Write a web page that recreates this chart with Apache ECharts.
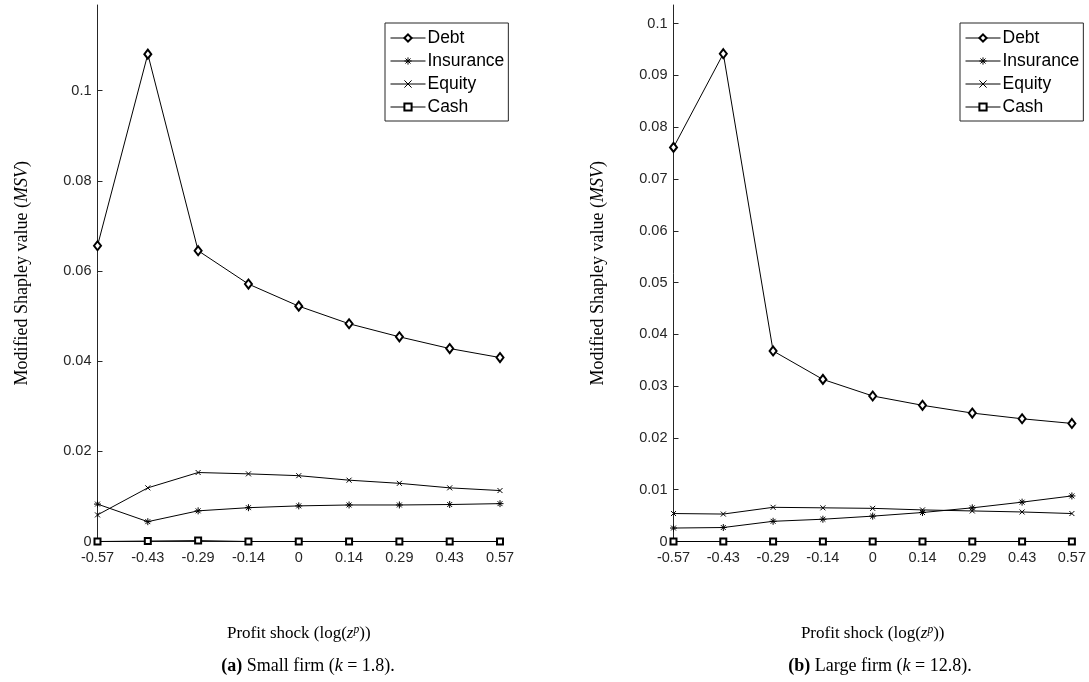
<!DOCTYPE html>
<html>
<head>
<meta charset="utf-8">
<style>
  html, body { margin: 0; padding: 0; background: #fff; }
  #chart { width: 1089px; height: 682px; }
</style>
<script src="https://cdn.jsdelivr.net/npm/echarts@6/dist/echarts.min.js"></script>
</head>
<body>
<div id="chart"></div>
<script>
// Profit shock grid (log z^p), shared by both panels
const shockLabels = ['-0.57', '-0.43', '-0.29', '-0.14', '0', '0.14', '0.29', '0.43', '0.57'];
const seriesNames = ['Debt', 'Insurance', 'Equity', 'Cash'];

// Panel (a): small firm, k = 1.8
const smallDebt      = [0.0656, 0.1081, 0.0645, 0.0571, 0.0522, 0.0483, 0.0454, 0.0428, 0.0408];
const smallInsurance = [0.0083, 0.0044, 0.0068, 0.0075, 0.0079, 0.0081, 0.0081, 0.0082, 0.0084];
const smallEquity    = [0.0059, 0.0119, 0.0153, 0.0150, 0.0146, 0.0136, 0.0129, 0.0119, 0.0113];
const smallCash      = [0.0000, 0.0001, 0.0002, 0.0000, 0.0000, 0.0000, 0.0000, 0.0000, 0.0000];

// Panel (b): large firm, k = 12.8
const largeDebt      = [0.0761, 0.0942, 0.0368, 0.0313, 0.0281, 0.0263, 0.0248, 0.0237, 0.0228];
const largeInsurance = [0.0026, 0.0027, 0.0039, 0.0043, 0.0049, 0.0056, 0.0065, 0.0076, 0.0088];
const largeEquity    = [0.0054, 0.0053, 0.0066, 0.0065, 0.0064, 0.0061, 0.0059, 0.0057, 0.0054];
const largeCash      = [0.0000, 0.0000, 0.0000, 0.0000, 0.0000, 0.0000, 0.0000, 0.0000, 0.0000];

const INK = '#262626';
const SANS = 'Liberation Sans, Arial, sans-serif';
const SERIF = 'Liberation Serif, DejaVu Serif, serif';

// Marker shapes: open diamond, asterisk, cross, open square
const markers = {
  Debt:      { symbol: 'emptyDiamond', size: [7, 9] },
  Insurance: { symbol: 'path://M5,0L5,10M0,5L10,5M1.5,1.5L8.5,8.5M1.5,8.5L8.5,1.5', size: 7 },
  Equity:    { symbol: 'path://M0,0L10,10M0,10L10,0', size: 5 },
  Cash:      { symbol: 'emptyRect', size: 6 }
};

function makeSeries(name, data, idx) {
  const m = markers[name];
  return {
    name: name,
    type: 'line',
    xAxisIndex: idx,
    yAxisIndex: idx,
    data: data,
    symbol: m.symbol,
    symbolSize: m.size,
    showAllSymbol: true,
    animation: false,
    lineStyle: { color: '#000', width: 1 },
    itemStyle: { color: '#000', borderColor: '#000', borderWidth: 1 },
    emphasis: { disabled: true }
  };
}

function xAxisFor(idx) {
  return {
    type: 'category',
    gridIndex: idx,
    data: shockLabels,
    boundaryGap: false,
    axisLine: { lineStyle: { color: INK, width: 1 } },
    axisTick: { show: false },
    axisLabel: { color: INK, fontFamily: SANS, fontSize: 14.5, margin: 9 },
    name: '{t|Profit shock (log(}{i|z}{s|p}{t|))}',
    nameLocation: 'middle',
    nameGap: 82,
    nameTextStyle: {
      rich: {
        t: { fontFamily: SERIF, fontSize: 17, color: '#000' },
        i: { fontFamily: SERIF, fontSize: 17, fontStyle: 'italic', color: '#000' },
        s: { fontFamily: SERIF, fontSize: 11.5, fontStyle: 'italic', color: '#000', verticalAlign: 'top', padding: [0, 0, 8, 0] }
      }
    }
  };
}

function yAxisFor(idx, max, step) {
  return {
    type: 'value',
    gridIndex: idx,
    min: 0,
    max: max,
    interval: step,
    axisLine: { show: true, lineStyle: { color: INK, width: 1 } },
    axisTick: { show: true, inside: true, length: 5, lineStyle: { color: INK } },
    splitLine: { show: false },
    axisLabel: {
      color: INK, fontFamily: SANS, fontSize: 14.5, margin: 6,
      showMaxLabel: false,
      formatter: v => {
        const k = v / step;
        return Math.abs(k - Math.round(k)) < 1e-6 ? String(+v.toFixed(2)) : '';
      }
    },
    name: '{t|Modified Shapley value (}{i|MSV}{t|)}',
    nameLocation: 'middle',
    nameRotate: 90,
    nameGap: 66,
    nameTextStyle: {
      rich: {
        t: { fontFamily: SERIF, fontSize: 18, color: '#000' },
        i: { fontFamily: SERIF, fontSize: 18, fontStyle: 'italic', color: '#000' }
      }
    }
  };
}

function legendFor(left) {
  return {
    data: seriesNames,
    orient: 'vertical',
    left: left,
    top: 23,
    itemWidth: 35,
    itemHeight: 9,
    itemGap: 5,
    padding: [6, 4, 5, 5],
    borderColor: INK,
    borderWidth: 1,
    backgroundColor: '#fff',
    selectedMode: false,
    itemStyle: { color: '#000', borderColor: '#000', borderWidth: 1 },
    lineStyle: { color: '#000', width: 1 },
    textStyle: { color: '#000', fontFamily: SANS, fontSize: 17.5, padding: [0, 0, 0, -3] }
  };
}

function captionFor(center, tag, before, k, after) {
  return {
    text: '{b|' + tag + '}{t| ' + before + '}{i|' + k + '}{t|' + after + '}',
    left: center,
    textAlign: 'center',
    top: 652,
    textStyle: {
      fontWeight: 'normal',
      fontFamily: SERIF,
      rich: {
        b: { fontFamily: SERIF, fontSize: 18, fontWeight: 'bold', color: '#000' },
        t: { fontFamily: SERIF, fontSize: 18, fontWeight: 'normal', color: '#000' },
        i: { fontFamily: SERIF, fontSize: 18, fontWeight: 'normal', fontStyle: 'italic', color: '#000' }
      }
    }
  };
}

const chart = echarts.init(document.getElementById('chart'), null, { renderer: 'canvas' });

chart.setOption({
  backgroundColor: '#fff',
  animation: false,
  title: [
    captionFor(303, '(a)', 'Small firm (', 'k', ' = 1.8).'),
    captionFor(875, '(b)', 'Large firm (', 'k', ' = 12.8).')
  ],
  legend: [legendFor(385), legendFor(960)],
  grid: [
    { left: 97.5, right: 589, top: 5, bottom: 140.5, containLabel: false },
    { left: 673.5, right: 12.5, top: 5, bottom: 140.5, containLabel: false }
  ],
  xAxis: [xAxisFor(0), xAxisFor(1)],
  yAxis: [yAxisFor(0, 0.119, 0.02), yAxisFor(1, 0.1036, 0.01)],
  series: [
    makeSeries('Debt', smallDebt, 0),
    makeSeries('Insurance', smallInsurance, 0),
    makeSeries('Equity', smallEquity, 0),
    makeSeries('Cash', smallCash, 0),
    makeSeries('Debt', largeDebt, 1),
    makeSeries('Insurance', largeInsurance, 1),
    makeSeries('Equity', largeEquity, 1),
    makeSeries('Cash', largeCash, 1)
  ]
});
</script>
</body>
</html>
